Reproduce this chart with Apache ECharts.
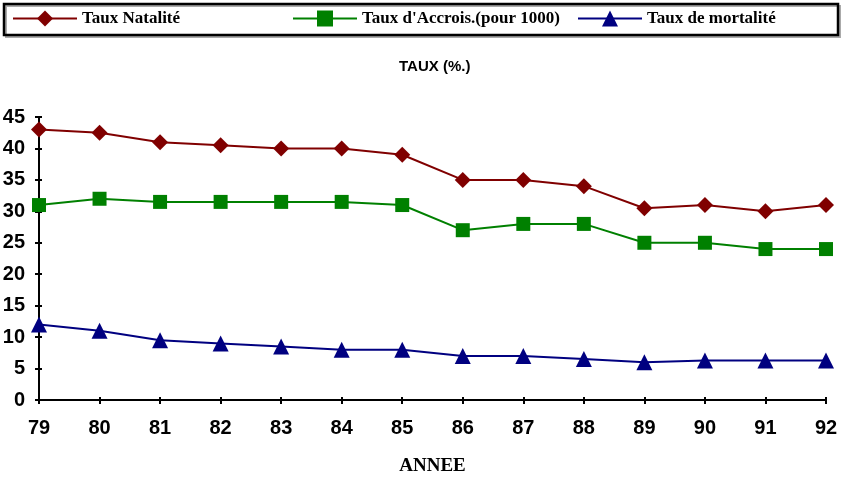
<!DOCTYPE html>
<html><head><meta charset="utf-8">
<script src="https://cdn.jsdelivr.net/npm/echarts@6/dist/echarts.min.js"></script>
<style>html,body{margin:0;padding:0;background:#fff}#c{width:841px;height:477px}</style>
</head><body><div id="c"></div>
<script>
const years = ['79','80','81','82','83','84','85','86','87','88','89','90','91','92'];
const natalite = [43, 42.5, 41, 40.5, 40, 40, 39, 35, 35, 34, 30.5, 31, 30, 31];
const accrois = [31, 32, 31.5, 31.5, 31.5, 31.5, 31, 27, 28, 28, 25, 25, 24, 24];
const mortalite = [12, 11, 9.5, 9, 8.5, 8, 8, 7, 7, 6.5, 6, 6.3, 6.3, 6.3];
const names = ['Taux Natalité', "Taux d'Accrois.(pour 1000)", 'Taux de mortalité'];

const chart = echarts.init(document.getElementById('c'), null, {renderer: 'canvas'});
const legendText = {fontFamily: 'Liberation Serif', fontWeight: 'bold', fontSize: 17, color: '#000'};
function lg(name, left) {
  return {data: [name], left: left, top: 10, itemWidth: 64, itemHeight: 20, itemGap: 4,
    textStyle: legendText, padding: 0, selectedMode: false};
}
const tickStyle = {color: '#000', width: 2};
chart.setOption({
  animation: false,
  title: {text: 'TAUX (%.)', left: 394, top: 54,
    textStyle: {fontFamily: 'Liberation Sans', fontWeight: 'bold', fontSize: 15, color: '#000'}},
  legend: [lg(names[0], 12), lg(names[1], 292), lg(names[2], 577)],
  graphic: [
    {type: 'rect', shape: {x: 6, y: 6, width: 834, height: 31},
      style: {fill: 'none', stroke: '#aaa', lineWidth: 2}, z: 99},
    {type: 'rect', shape: {x: 4, y: 4, width: 834, height: 31},
      style: {fill: 'none', stroke: '#000', lineWidth: 2.5}, z: 100}],
  grid: {left: 39, right: 15, top: 117, bottom: 77, outerBoundsMode: 'none', containLabel: false},
  xAxis: [{type: 'category', data: years, boundaryGap: false,
    axisLine: {lineStyle: {color: '#000', width: 2}},
    axisTick: {length: 4, lineStyle: tickStyle},
    axisLabel: {fontFamily: 'Liberation Sans', fontWeight: 'bold', fontSize: 20, color: '#000', margin: 18},
    name: 'ANNEE', nameLocation: 'middle', nameGap: 57,
    nameTextStyle: {fontFamily: 'Liberation Serif', fontWeight: 'bold', fontSize: 19, color: '#000'}},
    {type: 'category', data: years, boundaryGap: false, position: 'bottom',
    axisLine: {show: false}, axisLabel: {show: false},
    axisTick: {inside: true, length: 3, lineStyle: tickStyle}}],
  yAxis: [{type: 'value', min: 0, max: 45, interval: 5,
    axisLine: {show: true, lineStyle: {color: '#000', width: 2}},
    axisTick: {show: true, length: 4, lineStyle: tickStyle},
    splitLine: {show: false},
    axisLabel: {fontFamily: 'Liberation Sans', fontWeight: 'bold', fontSize: 20, color: '#000', margin: 14}},
    {type: 'value', min: 0, max: 45, interval: 5, position: 'left',
    axisLine: {show: false}, axisLabel: {show: false}, splitLine: {show: false},
    axisTick: {show: true, inside: true, length: 3, lineStyle: tickStyle}}],
  series: [
    {name: names[0], type: 'line', data: natalite, symbol: 'diamond', symbolSize: 16,
      lineStyle: {color: '#800000', width: 2}, itemStyle: {color: '#800000'}},
    {name: names[1], type: 'line', data: accrois, symbol: 'rect', symbolSize: 14,
      lineStyle: {color: '#008000', width: 2}, itemStyle: {color: '#008000'}},
    {name: names[2], type: 'line', data: mortalite, symbol: 'triangle', symbolSize: 16,
      lineStyle: {color: '#000080', width: 2}, itemStyle: {color: '#000080'}}
  ]
});
</script></body></html>
